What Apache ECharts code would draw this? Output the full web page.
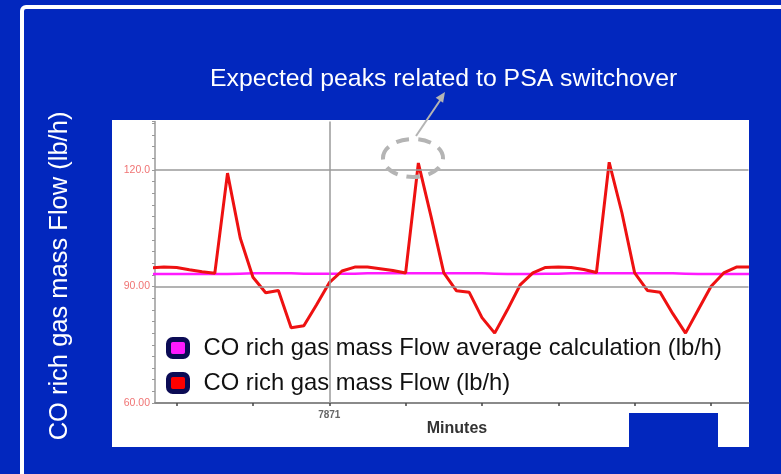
<!DOCTYPE html>
<html>
<head>
<meta charset="utf-8">
<script src="https://cdn.jsdelivr.net/npm/echarts@6/dist/echarts.min.js"></script>
<style>
  html, body { margin: 0; padding: 0; background: #0227be; }
  #chart { width: 781px; height: 474px; }
</style>
</head>
<body>
<div id="chart"></div>
<script>
// minutes on the x axis, one sample per minute
var minutes = [
  7857, 7858, 7859, 7860, 7861, 7862, 7863, 7864, 7865, 7866, 7867, 7868,
  7869, 7870, 7871, 7872, 7873, 7874, 7875, 7876, 7877, 7878, 7879, 7880,
  7881, 7882, 7883, 7884, 7885, 7886, 7887, 7888, 7889, 7890, 7891, 7892,
  7893, 7894, 7895, 7896, 7897, 7898, 7899, 7900, 7901, 7902, 7903, 7904
];
// CO rich gas mass Flow (lb/h)
var flow = [
  94.8, 95.0, 94.9, 94.3, 93.8, 93.4, 119.2, 102.5, 92.4, 88.4, 89.0, 79.4,
  79.9, 85.3, 91.0, 94.0, 95.0, 95.0, 94.6, 94.1, 93.5, 121.8, 108.0, 93.5,
  88.9, 88.5, 82.0, 78.0, 84.0, 90.4, 93.5, 94.9, 95.0, 94.9, 94.4, 93.6,
  122.0, 109.0, 93.5, 89.0, 88.5, 83.0, 78.0, 84.0, 90.0, 93.5, 95.0, 95.0
];
// average calculation (lb/h)
var flowAvg = [
  93.2, 93.2, 93.2, 93.2, 93.2, 93.2, 93.2, 93.3, 93.4, 93.4, 93.4, 93.4,
  93.3, 93.3, 93.3, 93.3, 93.3, 93.4, 93.4, 93.4, 93.4, 93.4, 93.4, 93.4,
  93.4, 93.4, 93.4, 93.3, 93.2, 93.2, 93.2, 93.3, 93.3, 93.4, 93.4, 93.4,
  93.4, 93.4, 93.4, 93.4, 93.4, 93.4, 93.3, 93.2, 93.2, 93.2, 93.2, 93.2
];
var seriesNames = [
  "CO rich gas mass Flow average calculation (lb/h)",
  "CO rich gas mass Flow (lb/h)"
];
var xTickValues = [7859, 7865, 7871, 7877, 7883, 7889, 7895, 7901];
var xLabelValues = [7871];
var yLabelValues = [60, 90, 120];
var yLabelTexts = ["60.00", "90.00", "120.0"];
var gridYValues = [90, 120];
var gridXValues = [7871];

var font = "'Liberation Sans', Arial, Helvetica, sans-serif";

function pairs(xs, ys) {
  return xs.map(function (x, i) { return [x, ys[i]]; });
}

var myChart = echarts.init(document.getElementById("chart"));

var gridLines = gridYValues.map(function (v) { return { yAxis: v }; })
  .concat(gridXValues.map(function (v) { return { xAxis: v }; }));

var option = {
  backgroundColor: "#0227be",
  animation: false,
  title: {
    text: "Expected peaks related to PSA switchover",
    left: 205,
    top: 62,
    textStyle: { color: "#fff", fontFamily: font, fontWeight: "normal", fontSize: 24.8 }
  },
  legend: {
    orient: "vertical",
    left: 161,
    top: 331,
    icon: "roundRect",
    itemWidth: 19,
    itemHeight: 17,
    itemGap: 11,
    itemStyle: { borderColor: "#0b0b55", borderWidth: 5 },
    textStyle: { color: "#111", fontFamily: font, fontSize: 23.8, lineHeight: 24, padding: [0, 0, 0, 11] },
    data: seriesNames
  },
  grid: { left: 155, right: 32.5, top: 121.5, bottom: 71 },
  xAxis: {
    type: "value",
    min: 7857.3,
    max: 7903.95,
    axisLine: { lineStyle: { color: "#8a8a8a", width: 2 } },
    axisTick: { customValues: xTickValues, length: 3, lineStyle: { color: "#444", width: 1.5 } },
    axisLabel: {
      customValues: xLabelValues,
      color: "#666",
      fontFamily: font,
      fontWeight: "bold",
      fontSize: 10,
      margin: 7,
      formatter: function (v) { return String(v); }
    },
    splitLine: { show: false }
  },
  yAxis: {
    type: "value",
    min: 60,
    max: 132.5,
    interval: 3,
    axisLine: { show: true, lineStyle: { color: "#9a9a9a", width: 1.5 } },
    axisTick: { show: true, length: 3, lineStyle: { color: "#999" } },
    axisLabel: {
      customValues: yLabelValues,
      color: "#f07474",
      fontFamily: font,
      fontSize: 10.5,
      margin: 5,
      formatter: function (v) {
        var i = yLabelValues.indexOf(v);
        return i >= 0 ? yLabelTexts[i] : "";
      }
    },
    splitLine: { show: false }
  },
  series: [
    {
      name: seriesNames[0],
      type: "line",
      z: 2,
      data: pairs(minutes, flowAvg),
      showSymbol: false,
      itemStyle: { color: "#ff1aff" },
      lineStyle: { color: "#ff1aff", width: 2.5 },
      markLine: {
        silent: true,
        symbol: "none",
        label: { show: false },
        lineStyle: { color: "#9a9a9a", type: "solid", width: 1.5 },
        data: gridLines
      }
    },
    {
      name: seriesNames[1],
      type: "line",
      z: 3,
      data: pairs(minutes, flow),
      showSymbol: false,
      itemStyle: { color: "#ff0000" },
      lineStyle: { color: "#ee1111", width: 3 }
    }
  ],
  graphic: [
    // outer white frame
    { type: "rect", z: -10, shape: { x: 22, y: 7, width: 800, height: 520, r: 4 },
      style: { fill: null, stroke: "#fff", lineWidth: 4 } },
    // white plot panel
    { type: "rect", z: -9, shape: { x: 112, y: 120, width: 637, height: 327 },
      style: { fill: "#fff" } },
    // blue block under the axis
    { type: "rect", z: -8, shape: { x: 629, y: 413, width: 89, height: 34 },
      style: { fill: "#0227be" } },
    // y axis title
    { type: "text", x: 60, y: 276, rotation: Math.PI / 2,
      style: { text: "CO rich gas mass Flow (lb/h)", fill: "#fff", font: "25.5px " + font,
        textAlign: "center", textVerticalAlign: "middle" } },
    // x axis title
    { type: "text", x: 457, y: 429,
      style: { text: "Minutes", fill: "#333", font: "bold 16px " + font,
        textAlign: "center", textVerticalAlign: "middle" } },
    // dashed ring round the peak + arrow
    { type: "ellipse", z: 10, shape: { cx: 413, cy: 158, rx: 30, ry: 19 },
      style: { fill: null, stroke: "#b4b4b4", lineWidth: 4, lineDash: [13, 9] } },
    { type: "line", z: 10, shape: { x1: 416, y1: 136, x2: 441, y2: 99 },
      style: { stroke: "#b4b4b4", lineWidth: 2 } },
    { type: "polygon", z: 10, shape: { points: [[445, 92], [443.1, 102.8], [435.7, 97.8]] },
      style: { fill: "#b4b4b4" } }
  ]
};

myChart.setOption(option);
</script>
</body>
</html>
